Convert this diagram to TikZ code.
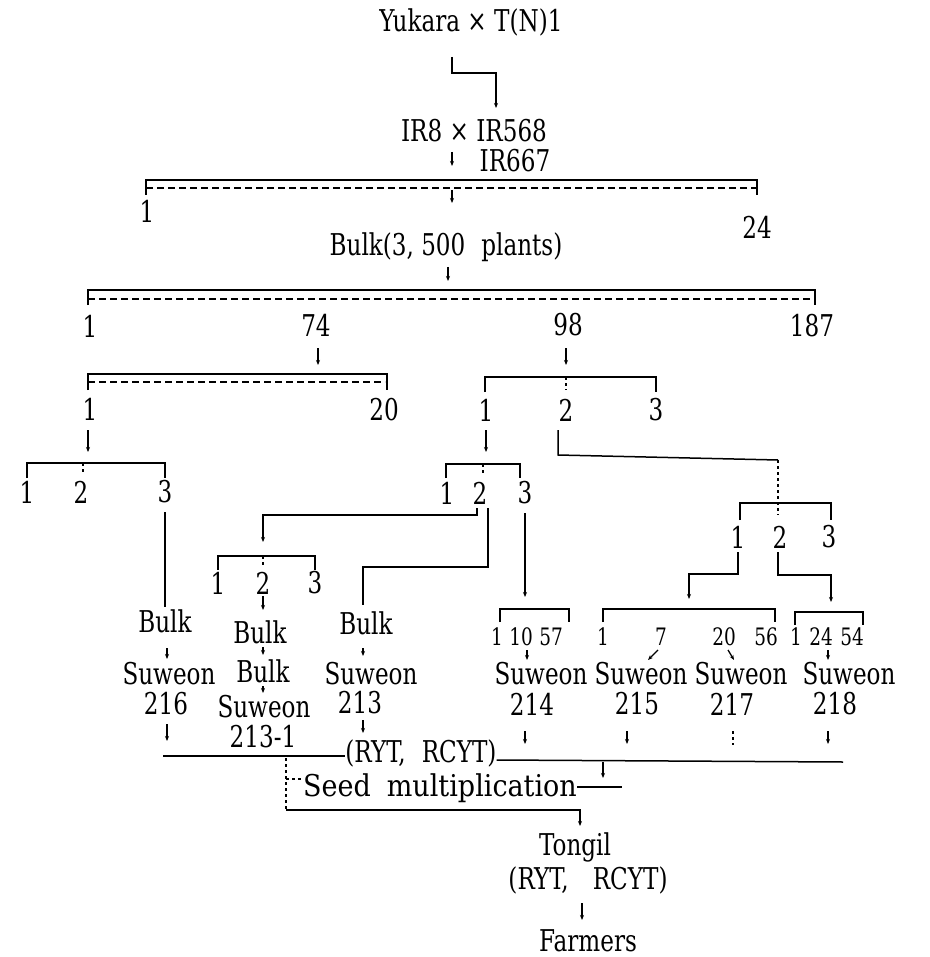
\documentclass[tikz,border=0pt]{standalone}
\usepackage{fontspec}
\setmainfont{DejaVu Serif}
\newfontfamily\cond[FakeStretch=0.77]{DejaVu Serif}
\newfontfamily\condw[FakeStretch=0.9]{DejaVu Serif}
\usetikzlibrary{arrows.meta}
\begin{document}
\begin{tikzpicture}[x=1pt,y=-1pt,
  lbl/.style={inner sep=0pt, font=\cond\fontsize{30}{32}\selectfont},
  wide/.style={inner sep=0pt, font=\condw\fontsize{30}{32}\selectfont},
  sml/.style={inner sep=0pt, font=\cond\fontsize{24}{26}\selectfont},
  ln/.style={line width=1.5pt},
  dl/.style={line width=1.5pt, dash pattern=on 7pt off 4pt},
  dt/.style={line width=1.3pt, dash pattern=on 3pt off 3pt},
  arr/.style={line width=1.3pt, -{Stealth[length=5pt,width=4pt]}},
]
\useasboundingbox (0,0) rectangle (929,957);
\fill[white] (0,0) rectangle (929,957);
% ---------- texts ----------
\node[lbl] (yuk) at (471,22) {Yukara × T(N)1};
\node[lbl] (ir8) at (474,131) {IR8 × IR568};
\node[lbl] (ir667) at (515,161) {IR667};
\node[lbl] (a1) at (147,211) {1};
\node[lbl] (a24) at (757,227) {24};
\node[lbl] (bulk) at (446,247) {Bulk(3, 500\hspace{16pt}plants)};
\node[lbl] (b1) at (90,326) {1};
\node[lbl] (b74) at (316,325) {74};
\node[lbl] (b98) at (568,325) {98};
\node[lbl] (b187) at (812,326) {187};
\node[lbl] (c1) at (90,409) {1};
\node[lbl] (c20) at (384,410) {20};
\node[lbl] (d1) at (486,410) {1};
\node[lbl] (d2) at (566,410) {2};
\node[lbl] (d3) at (656,410) {3};
\node[lbl] (e1) at (27,492) {1};
\node[lbl] (e2) at (81,492) {2};
\node[lbl] (e3) at (165,492) {3};
\node[lbl] (f1) at (447,493) {1};
\node[lbl] (f2) at (480,493) {2};
\node[lbl] (f3) at (525,493) {3};
\node[lbl] (g1) at (738,537) {1};
\node[lbl] (g2) at (780,537) {2};
\node[lbl] (g3) at (829,537) {3};
\node[lbl] (h1) at (218,583) {1};
\node[lbl] (h2) at (263,583) {2};
\node[lbl] (h3) at (315,583) {3};
\node[sml] (k1) at (497,637) {1};
\node[sml] (k10) at (521,637) {10};
\node[sml] (k57) at (551,637) {57};
\node[sml] (m1) at (603,637) {1};
\node[sml] (m7) at (661,637) {7};
\node[sml] (m20) at (724,637) {20};
\node[sml] (m56) at (766,637) {56};
\node[sml] (n1) at (796,637) {1};
\node[sml] (n24) at (821,637) {24};
\node[sml] (n54) at (852,637) {54};
\node[lbl] (bk1) at (165,621) {Bulk};
\node[lbl] (bk2) at (260,632) {Bulk};
\node[lbl] (bk3) at (366,623) {Bulk};
\node[lbl] (sw216) at (169,674) {Suweon};
\node[lbl] (n216) at (166,704) {216};
\node[lbl] (bk4) at (263,671) {Bulk};
\node[lbl] (sw2131) at (264,707) {Suweon};
\node[lbl] (n2131) at (263,737) {213-1};
\node[lbl] (sw213) at (371,674) {Suweon};
\node[lbl] (n213) at (360,703) {213};
\node[lbl] (sw214) at (541,674) {Suweon};
\node[lbl] (n214) at (532,704) {214};
\node[lbl] (sw215) at (641,674) {Suweon};
\node[lbl] (n215) at (637,704) {215};
\node[lbl] (sw217) at (741,674) {Suweon};
\node[lbl] (n217) at (732,704) {217};
\node[lbl] (sw218) at (849,674) {Suweon};
\node[lbl] (n218) at (835,704) {218};
\node[lbl] (ryt) at (421,753) {(RYT,\hspace{16pt}RCYT)};
\node[wide] (seed) at (440,788) {Seed\hspace{16pt}multiplication};
\node[lbl] (tong) at (575,847) {Tongil};
\node[lbl] (ryt2) at (588,880) {(RYT,\hspace{24pt}RCYT)};
\node[lbl] (farm) at (588,941) {Farmers};
% ---------- connectors ----------
\draw[arr] (452,57) -- (452,73) -- (496,73) -- (496,108);
\draw[arr] (452,152) -- (452,166);
\draw[ln] (146,195) -- (146,180) -- (757,180) -- (757,195);
\draw[dl] (146,188) -- (757,188);
\draw[arr] (452,190) -- (452,203);
\draw[arr] (448,267) -- (448,281);
\draw[ln] (88,305) -- (88,290) -- (815,290) -- (815,305);
\draw[dl] (88,299) -- (815,299);
\draw[arr] (318,348) -- (318,365);
\draw[arr] (566,348) -- (566,365);
\draw[ln] (88,390) -- (88,374) -- (387,374) -- (387,390);
\draw[dl] (88,382) -- (385,382);
\draw[ln] (485,392) -- (485,377) -- (656,377) -- (656,392);
\draw[dt] (566,377) -- (566,390);
\draw[arr] (88,430) -- (88,452);
\draw[arr] (486,430) -- (486,452);
\draw[ln] (558,430) -- (558,455) -- (778,460);
\draw[dt] (778,460) -- (778,515);
\draw[ln] (27,478) -- (27,463) -- (165,463) -- (165,478);
\draw[dt] (83,463) -- (83,475);
\draw[ln] (165,512) -- (165,607);
\draw[ln] (446,478) -- (446,464) -- (520,464) -- (520,478);
\draw[dt] (483,464) -- (483,474);
\draw[arr] (477,508) -- (477,515) -- (263,515) -- (263,542);
\draw[ln] (488,508) -- (488,567) -- (363,567) -- (363,605);
\draw[arr] (525,513) -- (525,597);
\draw[ln] (740,520) -- (740,503) -- (831,503) -- (831,520);
\draw[arr] (738,552) -- (738,574) -- (689,574) -- (689,599);
\draw[arr] (778,552) -- (778,575) -- (831,575) -- (831,602);
\draw[ln] (218,570) -- (218,556) -- (315,556) -- (315,570);
\draw[dt] (263,556) -- (263,566);
\draw[arr] (263,596) -- (263,610);
\draw[ln] (500,622) -- (500,609) -- (569,609) -- (569,622);
\draw[ln] (603,622) -- (603,609) -- (775,609) -- (775,622);
\draw[ln] (795,625) -- (795,612) -- (863,612) -- (863,625);
\draw[arr] (167,648) -- (167,659);
\draw[arr] (263,647) -- (263,655);
\draw[arr] (363,648) -- (363,656);
\draw[arr] (527,650) -- (527,660);
\draw[arr] (658,650) -- (648,660);
\draw[arr] (728,650) -- (734,660);
\draw[arr] (828,650) -- (828,660);
\draw[arr] (263,686) -- (263,693);
\draw[arr] (167,724) -- (167,741);
\draw[arr] (363,720) -- (363,733);
\draw[arr] (525,731) -- (525,744);
\draw[arr] (627,731) -- (627,744);
\draw[dt] (733,731) -- (733,745);
\draw[arr] (828,731) -- (828,744);
\draw[ln] (163,756) -- (ryt.west |- 0,756);
\draw[ln] (ryt.east |- 0,760) -- (843,762);
\draw[arr] (603,762) -- (603,778);
\draw[ln] (seed.east |- 0,787) -- (622,787);
\draw[dt] (286,758) -- (286,810);
\draw[dt] (286,779) -- (seed.west |- 0,779);
\draw[arr] (286,810) -- (580,810) -- (580,826);
\draw[arr] (582,903) -- (582,920);
\end{tikzpicture}
\end{document}
